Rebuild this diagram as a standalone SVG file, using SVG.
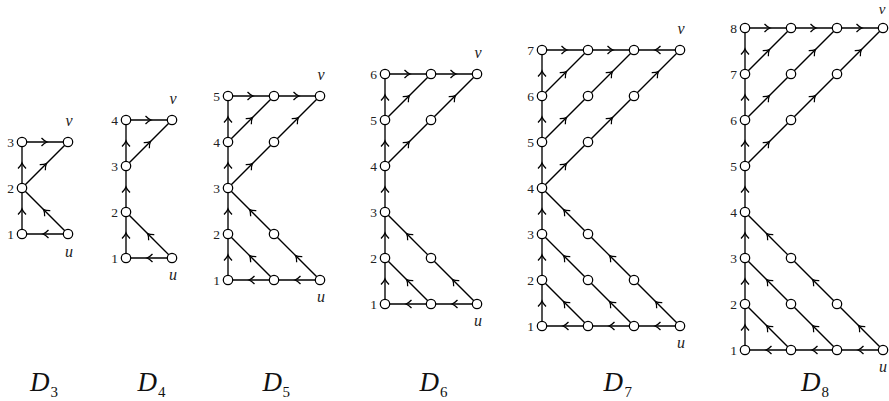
<svg xmlns="http://www.w3.org/2000/svg" width="889" height="401" viewBox="0 0 889 401">
<style>
.e{fill:none;stroke:#000;stroke-width:1.35;marker-mid:url(#a)}
.n{fill:#fff;stroke:#000;stroke-width:1.25}
.l{font-family:"Liberation Serif","DejaVu Serif",serif;font-size:13.5px;fill:#222;text-anchor:end}
.i{font-family:"Liberation Serif","DejaVu Serif",serif;font-style:italic;font-size:16px;fill:#222;text-anchor:middle}
.t{font-family:"Liberation Serif","DejaVu Serif",serif;font-style:italic;font-size:27px;fill:#111}
.s{font-style:normal;font-size:15px}
</style>
<defs>
<marker id="a" markerUnits="userSpaceOnUse" orient="auto" refX="0" refY="0" markerWidth="10" markerHeight="10" overflow="visible">
<path d="M-3.5,-4 Q-0.6,-1 2,0 Q-0.6,1 -3.5,4" fill="none" stroke="#000" stroke-width="1.3"/>
</marker>
</defs>
<rect width="889" height="401" fill="#fff"/>
<g id="connectors">
<!-- D3 -->
<path class="e" d="M22,234L22,211L22,188"/>
<path class="e" d="M22,188L22,165L22,142"/>
<path class="e" d="M22,142L45,142L68,142"/>
<path class="e" d="M22,188L45,165L68,142"/>
<path class="e" d="M68,234L45,234L22,234"/>
<path class="e" d="M68,234L45,211L22,188"/>
<!-- D4 -->
<path class="e" d="M126,258L126,235L126,212"/>
<path class="e" d="M126,212L126,189L126,166"/>
<path class="e" d="M126,166L126,143L126,120"/>
<path class="e" d="M126,120L149,120L172,120"/>
<path class="e" d="M126,166L149,143L172,120"/>
<path class="e" d="M172,258L149,258L126,258"/>
<path class="e" d="M172,258L149,235L126,212"/>
<!-- D5 -->
<path class="e" d="M228,280L228,257L228,234"/>
<path class="e" d="M228,234L228,211L228,188"/>
<path class="e" d="M228,188L228,165L228,142"/>
<path class="e" d="M228,142L228,119L228,96"/>
<path class="e" d="M228,96L251,96L274,96"/>
<path class="e" d="M274,96L297,96L320,96"/>
<path class="e" d="M228,142L251,119L274,96"/>
<path class="e" d="M228,188L251,165L274,142"/>
<path class="e" d="M274,142L297,119L320,96"/>
<path class="e" d="M320,280L297,280L274,280"/>
<path class="e" d="M274,280L251,280L228,280"/>
<path class="e" d="M274,280L251,257L228,234"/>
<path class="e" d="M320,280L297,257L274,234"/>
<path class="e" d="M274,234L251,211L228,188"/>
<!-- D6 -->
<path class="e" d="M385,304L385,281L385,258"/>
<path class="e" d="M385,258L385,235L385,212"/>
<path class="e" d="M385,212L385,189L385,166"/>
<path class="e" d="M385,166L385,143L385,120"/>
<path class="e" d="M385,120L385,97L385,74"/>
<path class="e" d="M385,74L408,74L431,74"/>
<path class="e" d="M431,74L454,74L477,74"/>
<path class="e" d="M385,120L408,97L431,74"/>
<path class="e" d="M385,166L408,143L431,120"/>
<path class="e" d="M431,120L454,97L477,74"/>
<path class="e" d="M477,304L454,304L431,304"/>
<path class="e" d="M431,304L408,304L385,304"/>
<path class="e" d="M431,304L408,281L385,258"/>
<path class="e" d="M477,304L454,281L431,258"/>
<path class="e" d="M431,258L408,235L385,212"/>
<!-- D7 -->
<path class="e" d="M542,326L542,303L542,280"/>
<path class="e" d="M542,280L542,257L542,234"/>
<path class="e" d="M542,234L542,211L542,188"/>
<path class="e" d="M542,188L542,165L542,142"/>
<path class="e" d="M542,142L542,119L542,96"/>
<path class="e" d="M542,96L542,73L542,50"/>
<path class="e" d="M542,50L565,50L588,50"/>
<path class="e" d="M588,50L611,50L634,50"/>
<path class="e" d="M680,50L657,50L634,50"/>
<path class="e" d="M542,96L565,73L588,50"/>
<path class="e" d="M542,142L565,119L588,96"/>
<path class="e" d="M588,96L611,73L634,50"/>
<path class="e" d="M542,188L565,165L588,142"/>
<path class="e" d="M588,142L611,119L634,96"/>
<path class="e" d="M634,96L657,73L680,50"/>
<path class="e" d="M680,326L657,326L634,326"/>
<path class="e" d="M634,326L611,326L588,326"/>
<path class="e" d="M588,326L565,326L542,326"/>
<path class="e" d="M588,326L565,303L542,280"/>
<path class="e" d="M634,326L611,303L588,280"/>
<path class="e" d="M588,280L565,257L542,234"/>
<path class="e" d="M680,326L657,303L634,280"/>
<path class="e" d="M634,280L611,257L588,234"/>
<path class="e" d="M588,234L565,211L542,188"/>
<!-- D8 -->
<path class="e" d="M745,350L745,327L745,304"/>
<path class="e" d="M745,304L745,281L745,258"/>
<path class="e" d="M745,258L745,235L745,212"/>
<path class="e" d="M745,212L745,189L745,166"/>
<path class="e" d="M745,166L745,143L745,120"/>
<path class="e" d="M745,120L745,97L745,74"/>
<path class="e" d="M745,74L745,51L745,28"/>
<path class="e" d="M745,28L768,28L791,28"/>
<path class="e" d="M791,28L814,28L837,28"/>
<path class="e" d="M837,28L860,28L883,28"/>
<path class="e" d="M745,74L768,51L791,28"/>
<path class="e" d="M745,120L768,97L791,74"/>
<path class="e" d="M791,74L814,51L837,28"/>
<path class="e" d="M745,166L768,143L791,120"/>
<path class="e" d="M791,120L814,97L837,74"/>
<path class="e" d="M837,74L860,51L883,28"/>
<path class="e" d="M883,350L860,350L837,350"/>
<path class="e" d="M837,350L814,350L791,350"/>
<path class="e" d="M791,350L768,350L745,350"/>
<path class="e" d="M791,350L768,327L745,304"/>
<path class="e" d="M837,350L814,327L791,304"/>
<path class="e" d="M791,304L768,281L745,258"/>
<path class="e" d="M883,350L860,327L837,304"/>
<path class="e" d="M837,304L814,281L791,258"/>
<path class="e" d="M791,258L768,235L745,212"/>
</g>
<!-- D3 nodes -->
<g id="d3-1"><circle class="n" cx="22" cy="234" r="4.7"/><text class="l" x="14" y="238.5">1</text></g>
<g id="d3-2"><circle class="n" cx="22" cy="188" r="4.7"/><text class="l" x="14" y="192.5">2</text></g>
<g id="d3-3"><circle class="n" cx="22" cy="142" r="4.7"/><text class="l" x="14" y="146.5">3</text></g>
<g id="d3-u"><circle class="n" cx="68" cy="234" r="4.7"/><text class="i" x="69" y="257">u</text></g>
<g id="d3-v"><circle class="n" cx="68" cy="142" r="4.7"/><text class="i" x="69" y="126">v</text></g>
<!-- D4 nodes -->
<g id="d4-1"><circle class="n" cx="126" cy="258" r="4.7"/><text class="l" x="118" y="262.5">1</text></g>
<g id="d4-2"><circle class="n" cx="126" cy="212" r="4.7"/><text class="l" x="118" y="216.5">2</text></g>
<g id="d4-3"><circle class="n" cx="126" cy="166" r="4.7"/><text class="l" x="118" y="170.5">3</text></g>
<g id="d4-4"><circle class="n" cx="126" cy="120" r="4.7"/><text class="l" x="118" y="124.5">4</text></g>
<g id="d4-u"><circle class="n" cx="172" cy="258" r="4.7"/><text class="i" x="173" y="280">u</text></g>
<g id="d4-v"><circle class="n" cx="172" cy="120" r="4.7"/><text class="i" x="173" y="104">v</text></g>
<!-- D5 nodes -->
<g id="d5-1"><circle class="n" cx="228" cy="280" r="4.7"/><text class="l" x="220" y="284.5">1</text></g>
<g id="d5-2"><circle class="n" cx="228" cy="234" r="4.7"/><text class="l" x="220" y="238.5">2</text></g>
<g id="d5-3"><circle class="n" cx="228" cy="188" r="4.7"/><text class="l" x="220" y="192.5">3</text></g>
<g id="d5-4"><circle class="n" cx="228" cy="142" r="4.7"/><text class="l" x="220" y="146.5">4</text></g>
<g id="d5-5"><circle class="n" cx="228" cy="96" r="4.7"/><text class="l" x="220" y="100.5">5</text></g>
<g id="d5-a"><circle class="n" cx="274" cy="96" r="4.7"/></g>
<g id="d5-b"><circle class="n" cx="274" cy="142" r="4.7"/></g>
<g id="d5-c"><circle class="n" cx="274" cy="234" r="4.7"/></g>
<g id="d5-d"><circle class="n" cx="274" cy="280" r="4.7"/></g>
<g id="d5-u"><circle class="n" cx="320" cy="280" r="4.7"/><text class="i" x="321" y="302">u</text></g>
<g id="d5-v"><circle class="n" cx="320" cy="96" r="4.7"/><text class="i" x="321" y="80">v</text></g>
<!-- D6 nodes -->
<g id="d6-1"><circle class="n" cx="385" cy="304" r="4.7"/><text class="l" x="377" y="308.5">1</text></g>
<g id="d6-2"><circle class="n" cx="385" cy="258" r="4.7"/><text class="l" x="377" y="262.5">2</text></g>
<g id="d6-3"><circle class="n" cx="385" cy="212" r="4.7"/><text class="l" x="377" y="216.5">3</text></g>
<g id="d6-4"><circle class="n" cx="385" cy="166" r="4.7"/><text class="l" x="377" y="170.5">4</text></g>
<g id="d6-5"><circle class="n" cx="385" cy="120" r="4.7"/><text class="l" x="377" y="124.5">5</text></g>
<g id="d6-6"><circle class="n" cx="385" cy="74" r="4.7"/><text class="l" x="377" y="78.5">6</text></g>
<g id="d6-a"><circle class="n" cx="431" cy="74" r="4.7"/></g>
<g id="d6-b"><circle class="n" cx="431" cy="120" r="4.7"/></g>
<g id="d6-c"><circle class="n" cx="431" cy="258" r="4.7"/></g>
<g id="d6-d"><circle class="n" cx="431" cy="304" r="4.7"/></g>
<g id="d6-u"><circle class="n" cx="477" cy="304" r="4.7"/><text class="i" x="478" y="326">u</text></g>
<g id="d6-v"><circle class="n" cx="477" cy="74" r="4.7"/><text class="i" x="478" y="58">v</text></g>
<!-- D7 nodes -->
<g id="d7-1"><circle class="n" cx="542" cy="326" r="4.7"/><text class="l" x="534" y="330.5">1</text></g>
<g id="d7-2"><circle class="n" cx="542" cy="280" r="4.7"/><text class="l" x="534" y="284.5">2</text></g>
<g id="d7-3"><circle class="n" cx="542" cy="234" r="4.7"/><text class="l" x="534" y="238.5">3</text></g>
<g id="d7-4"><circle class="n" cx="542" cy="188" r="4.7"/><text class="l" x="534" y="192.5">4</text></g>
<g id="d7-5"><circle class="n" cx="542" cy="142" r="4.7"/><text class="l" x="534" y="146.5">5</text></g>
<g id="d7-6"><circle class="n" cx="542" cy="96" r="4.7"/><text class="l" x="534" y="100.5">6</text></g>
<g id="d7-7"><circle class="n" cx="542" cy="50" r="4.7"/><text class="l" x="534" y="54.5">7</text></g>
<g id="d7-c1r7"><circle class="n" cx="588" cy="50" r="4.7"/></g>
<g id="d7-c2r7"><circle class="n" cx="634" cy="50" r="4.7"/></g>
<g id="d7-c1r6"><circle class="n" cx="588" cy="96" r="4.7"/></g>
<g id="d7-c2r6"><circle class="n" cx="634" cy="96" r="4.7"/></g>
<g id="d7-c1r5"><circle class="n" cx="588" cy="142" r="4.7"/></g>
<g id="d7-c1r3"><circle class="n" cx="588" cy="234" r="4.7"/></g>
<g id="d7-c1r2"><circle class="n" cx="588" cy="280" r="4.7"/></g>
<g id="d7-c2r2"><circle class="n" cx="634" cy="280" r="4.7"/></g>
<g id="d7-c1r1"><circle class="n" cx="588" cy="326" r="4.7"/></g>
<g id="d7-c2r1"><circle class="n" cx="634" cy="326" r="4.7"/></g>
<g id="d7-u"><circle class="n" cx="680" cy="326" r="4.7"/><text class="i" x="681" y="348">u</text></g>
<g id="d7-v"><circle class="n" cx="680" cy="50" r="4.7"/><text class="i" x="681" y="34">v</text></g>
<!-- D8 nodes -->
<g id="d8-1"><circle class="n" cx="745" cy="350" r="4.7"/><text class="l" x="737" y="354.5">1</text></g>
<g id="d8-2"><circle class="n" cx="745" cy="304" r="4.7"/><text class="l" x="737" y="308.5">2</text></g>
<g id="d8-3"><circle class="n" cx="745" cy="258" r="4.7"/><text class="l" x="737" y="262.5">3</text></g>
<g id="d8-4"><circle class="n" cx="745" cy="212" r="4.7"/><text class="l" x="737" y="216.5">4</text></g>
<g id="d8-5"><circle class="n" cx="745" cy="166" r="4.7"/><text class="l" x="737" y="170.5">5</text></g>
<g id="d8-6"><circle class="n" cx="745" cy="120" r="4.7"/><text class="l" x="737" y="124.5">6</text></g>
<g id="d8-7"><circle class="n" cx="745" cy="74" r="4.7"/><text class="l" x="737" y="78.5">7</text></g>
<g id="d8-8"><circle class="n" cx="745" cy="28" r="4.7"/><text class="l" x="737" y="32.5">8</text></g>
<g id="d8-c1r8"><circle class="n" cx="791" cy="28" r="4.7"/></g>
<g id="d8-c2r8"><circle class="n" cx="837" cy="28" r="4.7"/></g>
<g id="d8-c1r7"><circle class="n" cx="791" cy="74" r="4.7"/></g>
<g id="d8-c2r7"><circle class="n" cx="837" cy="74" r="4.7"/></g>
<g id="d8-c1r6"><circle class="n" cx="791" cy="120" r="4.7"/></g>
<g id="d8-c1r3"><circle class="n" cx="791" cy="258" r="4.7"/></g>
<g id="d8-c1r2"><circle class="n" cx="791" cy="304" r="4.7"/></g>
<g id="d8-c2r2"><circle class="n" cx="837" cy="304" r="4.7"/></g>
<g id="d8-c1r1"><circle class="n" cx="791" cy="350" r="4.7"/></g>
<g id="d8-c2r1"><circle class="n" cx="837" cy="350" r="4.7"/></g>
<g id="d8-u"><circle class="n" cx="883" cy="350" r="4.7"/><text class="i" x="883" y="372">u</text></g>
<g id="d8-v"><circle class="n" cx="883" cy="28" r="4.7"/><text class="i" x="882" y="14" style="font-size:15px">v</text></g>
<!-- titles -->
<g id="titles">
<text class="t" x="30" y="391">D<tspan class="s" x="50.5" y="397">3</tspan></text>
<text class="t" x="137.5" y="391">D<tspan class="s" x="158" y="397">4</tspan></text>
<text class="t" x="262.5" y="391">D<tspan class="s" x="282.5" y="397">5</tspan></text>
<text class="t" x="419.5" y="391">D<tspan class="s" x="440" y="397">6</tspan></text>
<text class="t" x="603.5" y="391">D<tspan class="s" x="624.5" y="397">7</tspan></text>
<text class="t" x="801" y="391">D<tspan class="s" x="821.5" y="397">8</tspan></text>
</g>
</svg>
